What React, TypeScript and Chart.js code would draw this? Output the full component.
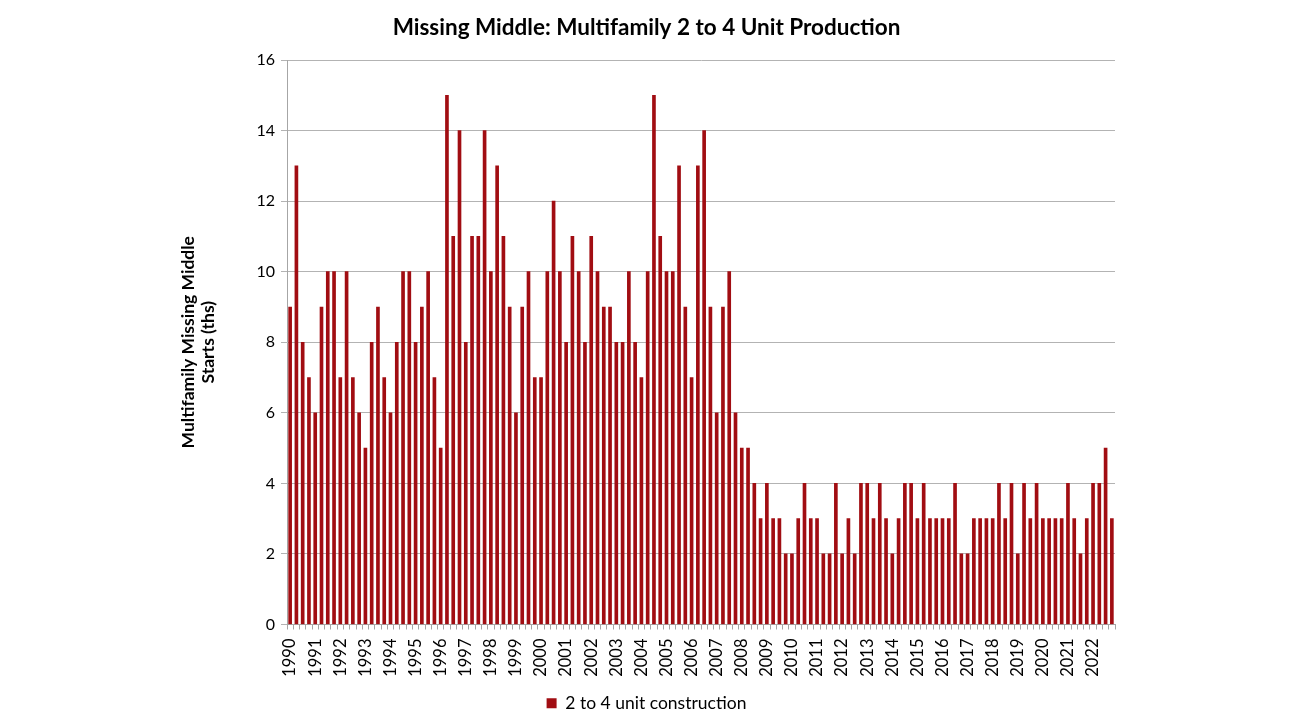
import React, { useEffect, useRef } from "react";
import { Chart, registerables } from "chart.js";

Chart.register(...registerables);

const years = [
  "1990", "1991", "1992", "1993", "1994", "1995", "1996", "1997", "1998", "1999", "2000",
  "2001", "2002", "2003", "2004", "2005", "2006", "2007", "2008", "2009", "2010", "2011",
  "2012", "2013", "2014", "2015", "2016", "2017", "2018", "2019", "2020", "2021", "2022",
];
const quarters = ["Q1", "Q2", "Q3", "Q4"];

const starts2to4 = [
  9, 13, 8, 7, 6, 9, 10, 10, 7, 10, 7, 6, 5, 8, 9, 7,
  6, 8, 10, 10, 8, 9, 10, 7, 5, 15, 11, 14, 8, 11, 11, 14,
  10, 13, 11, 9, 6, 9, 10, 7, 7, 10, 12, 10, 8, 11, 10, 8,
  11, 10, 9, 9, 8, 8, 10, 8, 7, 10, 15, 11, 10, 10, 13, 9,
  7, 13, 14, 9, 6, 9, 10, 6, 5, 5, 4, 3, 4, 3, 3, 2,
  2, 3, 4, 3, 3, 2, 2, 4, 2, 3, 2, 4, 4, 3, 4, 3,
  2, 3, 4, 4, 3, 4, 3, 3, 3, 3, 4, 2, 2, 3, 3, 3,
  3, 4, 3, 4, 2, 4, 3, 4, 3, 3, 3, 3, 4, 3, 2, 3,
  4, 4, 5, 3,
];

const yTicks = [0, 2, 4, 6, 8, 10, 12, 14, 16];

const titleText = "Missing Middle: Multifamily 2 to 4 Unit Production";
const yTitle = ["Multifamily Missing Middle", "Starts (ths)"];
const seriesName = "2 to 4 unit construction";

const FONT = "Lato, 'Open Sans', sans-serif";

export default function App() {
  const ref = useRef<HTMLCanvasElement | null>(null);

  useEffect(() => {
    if (!ref.current) return;
    const labels: string[] = [];
    years.forEach((y) => quarters.forEach((q) => labels.push(y + " " + q)));

    const chart = new Chart(ref.current, {
      type: "bar",
      data: {
        labels,
        datasets: [
          {
            label: seriesName,
            data: starts2to4,
            backgroundColor: "#a10d12",
            borderWidth: 0,
            barThickness: 3,
          },
        ],
      },
      options: {
        animation: false,
        responsive: false,
        maintainAspectRatio: false,
        layout: { padding: { left: 178, right: 175, top: 0, bottom: 4 } },
        plugins: {
          title: {
            display: true,
            text: titleText,
            color: "#000",
            font: { family: FONT, size: 22.5, weight: "bold" },
            padding: { top: 14, bottom: 19 },
          },
          legend: {
            position: "bottom",
            labels: {
              color: "#000",
              font: { family: FONT, size: 17.5 },
              boxWidth: 10,
              boxHeight: 10,
              padding: 10,
            },
          },
          tooltip: { enabled: false },
        },
        scales: {
          x: {
            offset: true,
            grid: {
              display: true,
              offset: true,
              drawOnChartArea: false,
              drawTicks: true,
              tickLength: 5,
              color: "#a6a6a6",
            },
            border: { display: true, color: "#a6a6a6" },
            ticks: {
              autoSkip: false,
              minRotation: 90,
              maxRotation: 90,
              padding: 9,
              color: "#000",
              font: { family: FONT, size: 16.5 },
              callback: (_v: any, i: number) => (i % 4 === 0 ? years[i / 4] : ""),
            },
            afterFit: (s: any) => {
              s.height = 60;
            },
          },
          y: {
            min: 0,
            max: 16,
            afterBuildTicks: (s: any) => {
              s.ticks = yTicks.map((v) => ({ value: v }));
            },
            grid: {
              color: "#b3b3b3",
              tickLength: 6,
              lineWidth: 1,
            },
            border: { display: true, color: "#a6a6a6" },
            ticks: {
              color: "#000",
              padding: 6,
              font: { family: FONT, size: 16 },
            },
            title: {
              display: true,
              text: yTitle,
              color: "#000",
              font: { family: FONT, size: 17.5, weight: "bold", lineHeight: 1.15 },
              padding: 0,
            },
            afterFit: (s: any) => {
              s.width = 109;
            },
          },
        },
      },
    });
    return () => chart.destroy();
  }, []);

  return (
    <div style={{ position: "fixed", left: 0, top: 0, width: 1290, height: 726, background: "#fff" }}>
      <canvas ref={ref} width={1290} height={726} style={{ width: 1290, height: 726 }} />
    </div>
  );
}
